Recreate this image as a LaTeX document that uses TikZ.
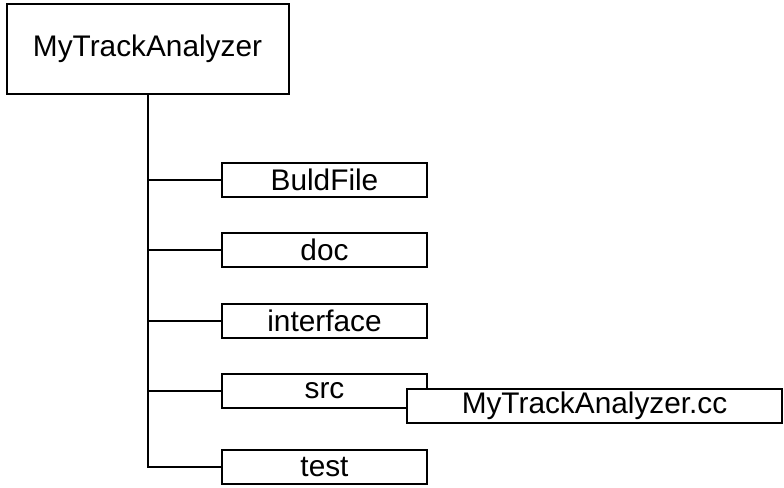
\documentclass[tikz,border=0pt]{standalone}
\usepackage{fontspec}
\setmainfont{Liberation Sans}
\begin{document}
\begin{tikzpicture}[x=1pt,y=-1pt,
  every node/.style={font=\fontsize{29.8}{32}\selectfont},
  rootbox/.style={draw,line width=2pt,fill=white,minimum width=282pt,minimum height=90pt,inner sep=0pt},
  dirbox/.style={draw,line width=2pt,fill=white,minimum width=205pt,minimum height=34pt,inner sep=0pt},
  filebox/.style={draw,line width=2pt,fill=white,minimum width=375pt,minimum height=34pt,inner sep=0pt},
  link/.style={line width=2pt}]
\useasboundingbox (0,0) rectangle (784,487);
\node[rootbox] (root) at (147.5,49) {MyTrackAnalyzer};
\node[dirbox] (bf) at (324.5,180) {BuldFile};
\node[dirbox] (doc) at (324.5,250) {doc};
\node[dirbox] (int) at (324.5,320.5) {interface};
\node[dirbox] (src) at (324.5,391) {src};
\node[dirbox] (test) at (324.5,467) {test};
\node[filebox] (cc) at (594.5,406) {MyTrackAnalyzer.cc};
\draw[link] (root.south) |- (test.west);
\draw[link] (root.south |- bf.west) -- (bf.west);
\draw[link] (root.south |- doc.west) -- (doc.west);
\draw[link] (root.south |- int.west) -- (int.west);
\draw[link] (root.south |- src.west) -- (src.west);
\end{tikzpicture}
\end{document}
